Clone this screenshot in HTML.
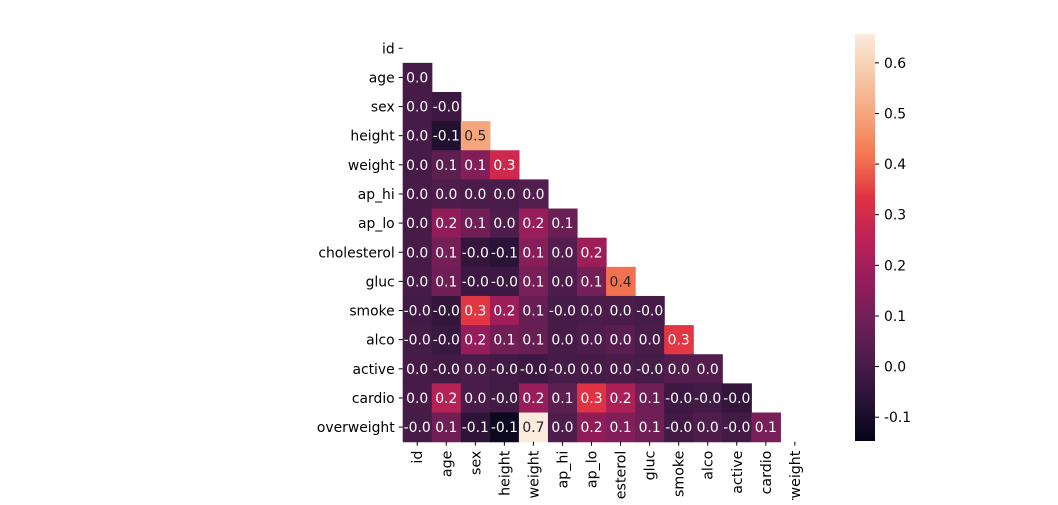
<!DOCTYPE html>
<html><head><meta charset="utf-8">
<style>
html,body{margin:0;padding:0;background:#fff;}
svg text{font-family:"DejaVu Sans","Liberation Sans",sans-serif;font-size:13.9px;fill:#000;}
</style></head>
<body>
<svg id="chart" width="1058" height="500" xmlns="http://www.w3.org/2000/svg">
<g id="cells"></g>
<g id="ylab"></g>
<g id="xlab"></g>
<defs><linearGradient id="cbg" x1="0" y1="1" x2="0" y2="0"></linearGradient></defs>
<rect x="855" y="34" width="20" height="407" fill="url(#cbg)"/>
<g id="cbticks"></g>
</svg>
<script>
const labels = ["id","age","sex","height","weight","ap_hi","ap_lo","cholesterol","gluc","smoke","alco","active","cardio","overweight"];
const matrixRows = [
 [],
 [0.00],
 [0.00,-0.02],
 [0.00,-0.08,0.50],
 [0.00,0.05,0.13,0.29],
 [0.00,0.02,0.01,0.01,0.03],
 [0.00,0.16,0.09,0.02,0.18,0.08],
 [0.00,0.10,-0.04,-0.06,0.14,0.03,0.19],
 [0.00,0.09,-0.02,-0.02,0.11,0.02,0.10,0.41],
 [-0.01,-0.04,0.34,0.19,0.07,-0.001,0.01,0.01,-0.001],
 [-0.001,-0.03,0.17,0.09,0.07,0.00,0.02,0.04,0.01,0.34],
 [0.00,-0.01,0.01,-0.01,-0.02,-0.001,0.00,0.01,-0.001,0.03,0.03],
 [0.00,0.24,0.01,-0.01,0.18,0.05,0.33,0.22,0.09,-0.02,-0.01,-0.04],
 [-0.001,0.09,-0.05,-0.13,0.66,0.02,0.16,0.13,0.09,-0.01,0.02,-0.01,0.11]
];
const cbTicks = [-0.1,0.0,0.1,0.2,0.3,0.4,0.5,0.6];
const vmin=-0.147, vmax=0.657;
const X0=402.7, Y0=33.7, CW=29.05, CH=29.14;
const cbTop=34, cbBot=441;
const stops=[[0,[3,5,26]],[0.1,[40,18,54]],[0.2,[76,29,75]],[0.3,[113,31,87]],[0.4,[151,29,91]],[0.5,[189,34,85]],[0.6,[225,51,66]],[0.7,[243,118,81]],[0.8,[246,164,122]],[0.9,[247,201,170]],[1,[250,235,221]]];
function cmap(t){t=Math.max(0,Math.min(1,t));for(let i=1;i<stops.length;i++){if(t<=stops[i][0]){const a=stops[i-1],b=stops[i],f=(t-a[0])/(b[0]-a[0]);return a[1].map((v,k)=>Math.round(v+(b[1][k]-v)*f));}}return stops[stops.length-1][1];}
function norm(v){return (v-vmin)/(vmax-vmin);}
function xS(i){return X0+i*CW;}
function yS(j){return Y0+j*CH;}
function cbY(v){return cbBot-(v-vmin)/(vmax-vmin)*(cbBot-cbTop);}
const NS="http://www.w3.org/2000/svg";
function mk(t,a){const e=document.createElementNS(NS,t);for(const k in a)e.setAttribute(k,a[k]);return e;}
const cells=document.getElementById('cells');
matrixRows.forEach((row,j)=>{row.forEach((v,i)=>{
 const c=cmap(norm(v));
 const r=mk('rect',{x:xS(i),y:yS(j),width:CW+0.6,height:CH+0.6,fill:`rgb(${c})`});
 
 
 cells.appendChild(r);
 const lum=(0.2126*c[0]+0.7152*c[1]+0.0722*c[2])/255;
 const t=mk('text',{x:xS(i)+CW/2,y:yS(j)+CH/2+5,'text-anchor':'middle'});
 t.style.fill=lum>0.45?'#262626':'#fff';
 t.textContent=v.toFixed(1);
 
 
 cells.appendChild(t);
});});
const yl=document.getElementById('ylab'), xl=document.getElementById('xlab');
labels.forEach((l,j)=>{
 const cy=yS(j)+CH/2;
 yl.appendChild(mk('line',{x1:X0-4,x2:X0,y1:cy,y2:cy,stroke:'#000','stroke-width':1}));
 const t=mk('text',{x:X0-8,y:cy+5,'text-anchor':'end'});t.textContent=l;
 
 
 yl.appendChild(t);
 const cx=xS(j)+CW/2, by=Y0+14*CH;
 xl.appendChild(mk('line',{x1:cx,x2:cx,y1:by,y2:by+4,stroke:'#000','stroke-width':1}));
 const u=mk('text',{x:0,y:0,'text-anchor':'end',transform:`translate(${cx+5},${by+9}) rotate(-90)`});u.textContent=l;
 u.style.fontSize='14.2px';
 
 
 xl.appendChild(u);
});
const g=document.getElementById('cbg');
for(let k=0;k<=20;k++){const c=cmap(k/20);g.appendChild(mk('stop',{offset:(k/20),'stop-color':`rgb(${c})`}));}
const cbt=document.getElementById('cbticks');
cbTicks.forEach(v=>{const y=cbY(v);
 cbt.appendChild(mk('line',{x1:875,x2:879,y1:y,y2:y,stroke:'#000','stroke-width':1}));
 const t=mk('text',{x:884,y:y+5});t.textContent=v.toFixed(1);
 
 
 cbt.appendChild(t);});
</script>
</body></html>
